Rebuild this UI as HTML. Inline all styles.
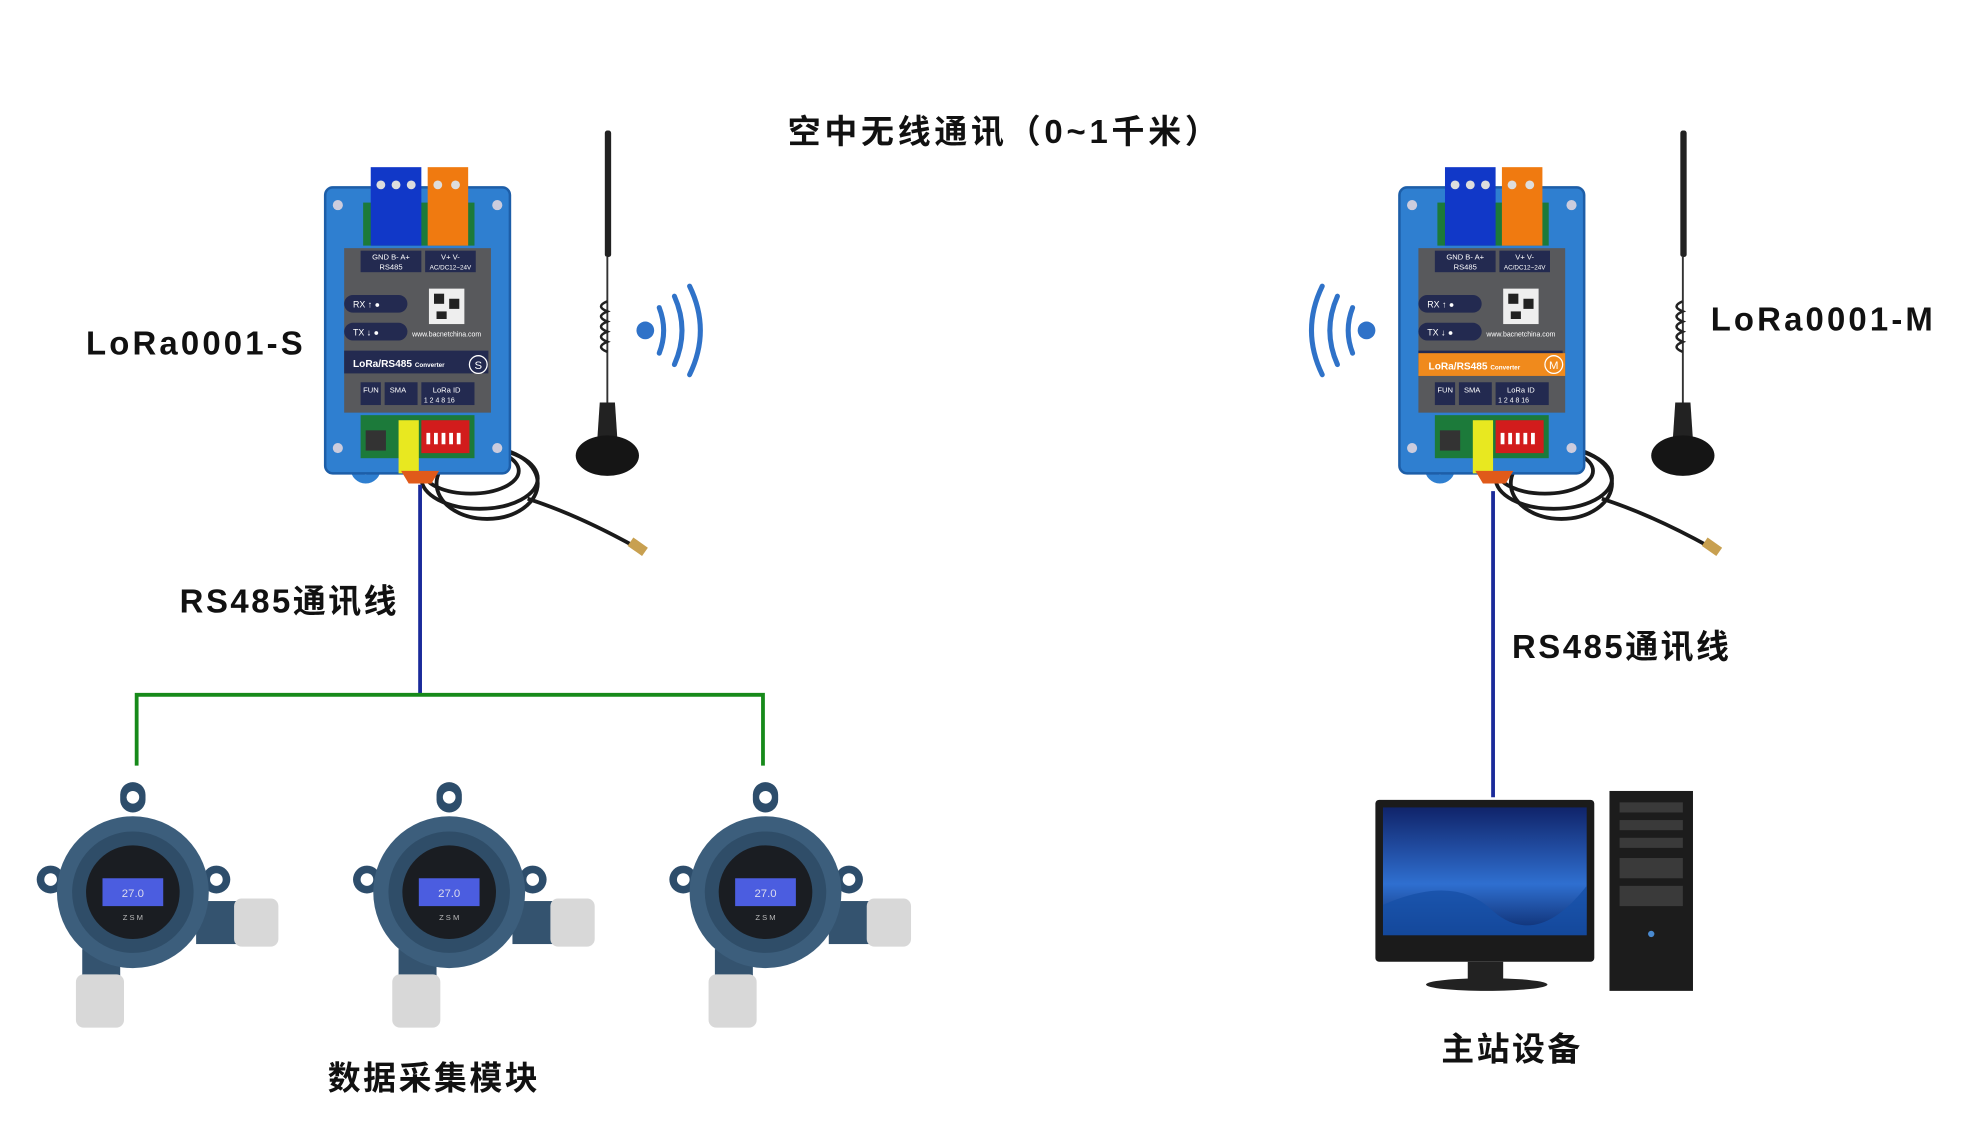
<!DOCTYPE html>
<html><head><meta charset="utf-8">
<style>
html,body{margin:0;padding:0;background:#fff;}
svg{display:block;}
text{font-family:"Liberation Sans","Noto Sans CJK SC",sans-serif;}
</style></head>
<body>
<svg width="1984" height="1134" viewBox="0 0 1568 896" xmlns="http://www.w3.org/2000/svg">
<defs>
  <g id="dev">
    <g fill="none" stroke="#1a1a1a" stroke-width="3">
      <ellipse cx="115" cy="240" rx="38" ry="18"/>
      <ellipse cx="122" cy="246" rx="46" ry="24"/>
      <ellipse cx="128" cy="250" rx="40" ry="28"/>
      <path d="M160 262 Q200 275 245 300"/>
    </g>
    <rect x="240" y="296" width="14" height="8" fill="#c8a050" transform="rotate(35 247 300)"/>
    <circle cx="32" cy="238" r="12" fill="#2f7fd0"/>
    <circle cx="32" cy="238" r="5" fill="#fff"/>
    <rect x="0" y="16" width="146" height="226" rx="6" fill="#2f7fd0" stroke="#1d5ea8" stroke-width="2"/>
    <circle cx="10" cy="30" r="4" fill="#ccd"/><circle cx="136" cy="30" r="4" fill="#ccd"/>
    <circle cx="10" cy="222" r="4" fill="#ccd"/><circle cx="136" cy="222" r="4" fill="#ccd"/>
    <rect x="30" y="28" width="88" height="34" fill="#1c7a3a"/>
    <rect x="36" y="0" width="40" height="62" fill="#1138c8"/>
    <rect x="81" y="0" width="32" height="62" fill="#f07a10"/>
    <circle cx="44" cy="14" r="3.5" fill="#ddd"/><circle cx="56" cy="14" r="3.5" fill="#ddd"/><circle cx="68" cy="14" r="3.5" fill="#ddd"/>
    <circle cx="89" cy="14" r="3.5" fill="#ddd"/><circle cx="103" cy="14" r="3.5" fill="#ddd"/>
    <rect x="15" y="64" width="116" height="130" fill="#58595c"/>
    <rect x="28" y="66" width="48" height="17" fill="#232a50"/>
    <rect x="79" y="66" width="40" height="17" fill="#232a50"/>
    <text x="52" y="73" font-size="6" fill="#fff" text-anchor="middle">GND B- A+</text>
    <text x="52" y="81" font-size="6" fill="#fff" text-anchor="middle">RS485</text>
    <text x="99" y="73" font-size="6" fill="#fff" text-anchor="middle">V+ V-</text>
    <text x="99" y="81" font-size="5" fill="#fff" text-anchor="middle">AC/DC12~24V</text>
    <rect x="15" y="101" width="50" height="14" rx="7" fill="#232a50"/>
    <rect x="15" y="123" width="50" height="14" rx="7" fill="#232a50"/>
    <text x="22" y="111" font-size="7" fill="#fff">RX ↑ ●</text>
    <text x="22" y="133" font-size="7" fill="#fff">TX ↓ ●</text>
    <rect x="82" y="96" width="28" height="28" fill="#eee"/>
    <rect x="86" y="100" width="8" height="8" fill="#222"/><rect x="98" y="104" width="8" height="8" fill="#222"/><rect x="88" y="114" width="8" height="6" fill="#222"/>
    <text x="96" y="134" font-size="5.5" fill="#fff" text-anchor="middle">www.bacnetchina.com</text>
    <rect x="15" y="145" width="114" height="18" fill="#232a50"/>
    <text x="22" y="158" font-size="8" fill="#fff" font-weight="bold">LoRa/RS485 <tspan font-size="5">Converter</tspan></text>
    <rect x="28" y="170" width="16" height="18" fill="#232a50"/>
    <rect x="47" y="170" width="26" height="18" fill="#232a50"/>
    <rect x="76" y="170" width="42" height="18" fill="#232a50"/>
    <text x="30" y="178" font-size="6" fill="#fff">FUN</text>
    <text x="51" y="178" font-size="6" fill="#fff">SMA</text>
    <text x="85" y="178" font-size="6" fill="#fff">LoRa ID</text>
    <text x="78" y="186" font-size="5.5" fill="#fff">1 2 4 8 16</text>
    <rect x="28" y="196" width="90" height="34" fill="#1c7a3a"/>
    <rect x="32" y="208" width="16" height="16" fill="#333"/>
    <rect x="58" y="200" width="16" height="42" fill="#e8e820"/>
    <rect x="76" y="200" width="38" height="26" fill="#d21c1c"/>
    <g fill="#fff"><rect x="80" y="210" width="3" height="9"/><rect x="86" y="210" width="3" height="9"/><rect x="92" y="210" width="3" height="9"/><rect x="98" y="210" width="3" height="9"/><rect x="104" y="210" width="3" height="9"/></g>
    <path d="M60 240 L90 240 L84 250 L66 250Z" fill="#e05a1a"/>
  </g>
  <g id="ant">
    <rect x="-2" y="0" width="5" height="100" rx="2" fill="#222"/>
    <line x1="0" y1="100" x2="0" y2="220" stroke="#333" stroke-width="1.5"/>
    <path d="M0 135 q-10 4 0 8 q-10 4 0 8 q-10 4 0 8 q-10 4 0 8 q-10 4 0 8" fill="none" stroke="#222" stroke-width="2"/>
    <path d="M-6 215 L6 215 L8 245 L-8 245Z" fill="#222"/>
    <ellipse cx="0" cy="257" rx="25" ry="16" fill="#151515"/>
  </g>
  <g id="sensor">
    <rect x="-10" y="-22" width="20" height="24" rx="10" fill="#2d4d6b"/>
    <circle cx="0" cy="-10" r="5" fill="#fff"/>
    <circle cx="-65" cy="55" r="11" fill="#2d4d6b"/><circle cx="-65" cy="55" r="5" fill="#fff"/>
    <circle cx="66" cy="55" r="11" fill="#2d4d6b"/><circle cx="66" cy="55" r="5" fill="#fff"/>
    <rect x="50" y="72" width="35" height="34" fill="#34536f"/>
    <rect x="80" y="70" width="35" height="38" rx="6" fill="#d8d8d8"/>
    <rect x="-40" y="110" width="30" height="30" fill="#34536f"/>
    <rect x="-45" y="130" width="38" height="42" rx="6" fill="#d8d8d8"/>
    <circle cx="0" cy="65" r="60" fill="#3c5e7c"/>
    <circle cx="0" cy="65" r="48" fill="#2f4d68"/>
    <circle cx="0" cy="65" r="37" fill="#1a1d22"/>
    <rect x="-24" y="54" width="48" height="22" fill="#4b5de0"/>
    <text x="0" y="69" font-size="9" fill="#dde" text-anchor="middle">27.0</text>
    <text x="0" y="87" font-size="6" fill="#bbb" text-anchor="middle">Z  S  M</text>
  </g>
</defs>

<text x="794" y="113" font-size="26" font-weight="bold" text-anchor="middle" fill="#111" letter-spacing="3">空中无线通讯（0~1千米）</text>

<use href="#ant" x="480" y="103"/>
<use href="#dev" x="257" y="132"/>
<g transform="translate(257,132)"><circle cx="121" cy="156" r="7" fill="none" stroke="#fff" stroke-width="1"/><text x="121" y="159.5" font-size="9" fill="#fff" text-anchor="middle">S</text></g>
<text x="68" y="280" font-size="26" font-weight="bold" fill="#111" letter-spacing="2.5">LoRa0001-S</text>
<g fill="none" stroke="#2f72c8" stroke-width="4" stroke-linecap="round">
  <path d="M521 243 Q528 261 521 279"/><path d="M533 234 Q545 261 533 288"/><path d="M545 226 Q562 261 545 296"/>
</g>
<circle cx="510" cy="261" r="7" fill="#2f72c8"/>

<line x1="332" y1="383" x2="332" y2="549" stroke="#1a2a9a" stroke-width="3"/>
<polyline points="108,605 108,549 603,549 603,605" fill="none" stroke="#178a1a" stroke-width="3"/>
<text x="142" y="484" font-size="26" font-weight="bold" fill="#111" letter-spacing="2">RS485通讯线</text>

<use href="#sensor" x="105" y="640"/>
<use href="#sensor" x="355" y="640"/>
<use href="#sensor" x="605" y="640"/>
<text x="343" y="861" font-size="26" font-weight="bold" fill="#111" text-anchor="middle" letter-spacing="2">数据采集模块</text>

<use href="#ant" x="1330" y="103"/>
<use href="#dev" x="1106" y="132"/>
<rect x="1121" y="279" width="116" height="18" fill="#f08a1c"/>
<text x="1129" y="292" font-size="8" fill="#fff" font-weight="bold">LoRa/RS485 <tspan font-size="5">Converter</tspan></text>
<circle cx="1228" cy="288" r="7" fill="none" stroke="#fff"/><text x="1228" y="291.5" font-size="9" fill="#fff" text-anchor="middle">M</text>
<text x="1352" y="261" font-size="26" font-weight="bold" fill="#111" letter-spacing="2.5">LoRa0001-M</text>
<g fill="none" stroke="#2f72c8" stroke-width="4" stroke-linecap="round">
  <path d="M1069 243 Q1062 261 1069 279"/><path d="M1057 234 Q1045 261 1057 288"/><path d="M1045 226 Q1028 261 1045 296"/>
</g>
<circle cx="1080" cy="261" r="7" fill="#2f72c8"/>

<line x1="1180" y1="388" x2="1180" y2="630" stroke="#1a2a9a" stroke-width="3"/>
<text x="1195" y="520" font-size="26" font-weight="bold" fill="#111" letter-spacing="2">RS485通讯线</text>

<rect x="1087" y="632" width="173" height="128" rx="3" fill="#1b1b1b"/>
<defs><linearGradient id="scr" x1="0" y1="0" x2="0" y2="1"><stop offset="0" stop-color="#10246a"/><stop offset="0.6" stop-color="#2f6fd0"/><stop offset="1" stop-color="#0c2a6a"/></linearGradient></defs>
<rect x="1093" y="638" width="161" height="101" fill="url(#scr)"/>
<path d="M1093 715 Q1150 690 1180 720 Q1215 750 1254 700 L1254 739 L1093 739Z" fill="#1650a8" opacity="0.8"/>
<rect x="1160" y="760" width="28" height="14" fill="#222"/>
<ellipse cx="1175" cy="778" rx="48" ry="5" fill="#222"/>
<rect x="1272" y="625" width="66" height="158" fill="#1c1c1c"/>
<g fill="#3a3a3a"><rect x="1280" y="634" width="50" height="8"/><rect x="1280" y="648" width="50" height="8"/><rect x="1280" y="662" width="50" height="8"/><rect x="1280" y="678" width="50" height="16"/><rect x="1280" y="700" width="50" height="16"/></g>
<circle cx="1305" cy="738" r="2.5" fill="#4a8ad0"/>
<text x="1195" y="838" font-size="26" font-weight="bold" fill="#111" text-anchor="middle" letter-spacing="2">主站设备</text>
</svg>
</body></html>
